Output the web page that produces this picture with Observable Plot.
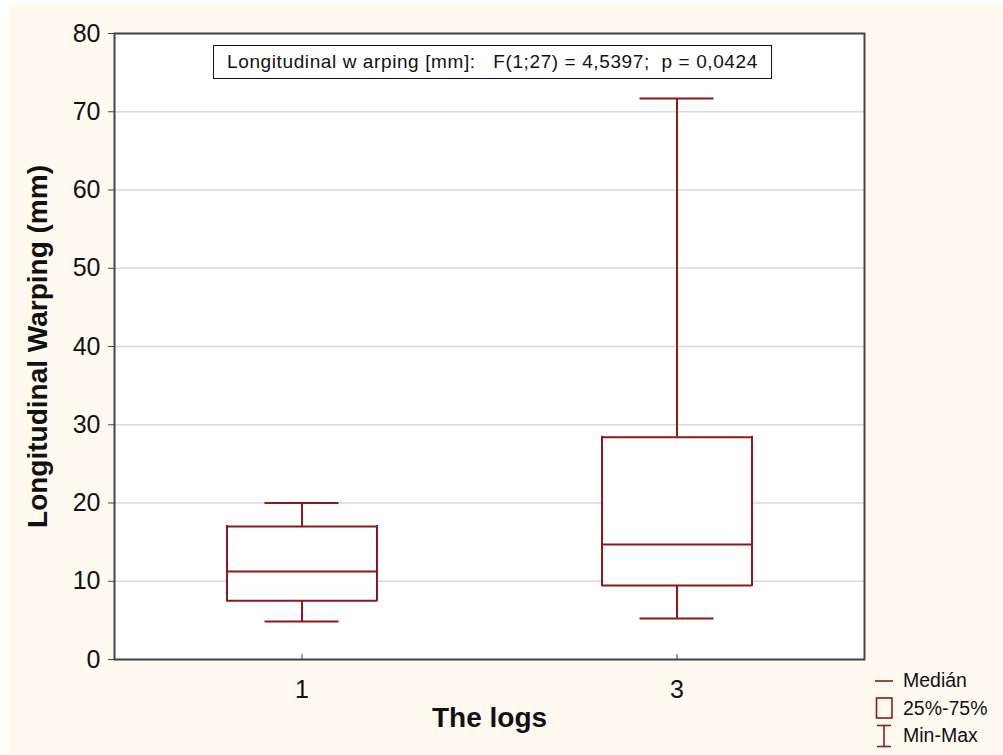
<!DOCTYPE html>
<html>
<head>
<meta charset="utf-8">
<script src="https://cdn.jsdelivr.net/npm/d3@7"></script>
<script src="https://cdn.jsdelivr.net/npm/@observablehq/plot@0.6"></script>
<style>
  html, body { margin: 0; padding: 0; background: #ffffff; }
  #wrap { position: relative; width: 1003px; height: 755px; overflow: hidden; }
  #bg { position: absolute; left: 9px; top: 4px; right: 0; bottom: 0; background: #fefaf0; }
  #chart { position: absolute; left: 0; top: 0; }
  #title { position: absolute; left: 213px; top: 45px; width: 557px; height: 32px; border: 1.5px solid #111;
    background: #fff; font-family: "Liberation Sans", Arial, sans-serif; font-size: 19px; letter-spacing: 0.6px; color: #111;
    display: flex; align-items: center; justify-content: center; white-space: pre; }
  #legend { position: absolute; left: 874px; top: 667px; font-family: "Liberation Sans", Arial, sans-serif;
    font-size: 19.5px; color: #111; }
  #legend .row { display: flex; align-items: center; height: 27.5px; }
  #legend svg { margin-right: 9px; }
</style>
</head>
<body>
<div id="wrap">
  <div id="bg"></div>
  <div id="chart"></div>
  <div id="title"></div>
  <div id="legend"></div>
</div>
<script>
const categories = ["1", "3"];
const minV    = [4.85, 5.25];
const q1V     = [7.5, 9.45];
const medianV = [11.25, 14.7];
const q3V     = [17.0, 28.4];
const maxV    = [20.0, 71.7];
const yTicks  = [0, 10, 20, 30, 40, 50, 60, 70, 80];
const titleText = "Longitudinal w arping [mm]:   F(1;27) = 4,5397;  p = 0,0424";
const legendLabels = ["Medián", "25%-75%", "Min-Max"];
const xLabel = "The logs";
const yLabel = "Longitudinal Warping (mm)";

const data = categories.map((c, i) => ({
  cat: c, min: minV[i], q1: q1V[i], median: medianV[i], q3: q3V[i], max: maxV[i]
}));

const boxColor = "#8b1a1a";
const W = 1003, H = 755;
const mL = 114, mR = 139, mT = 33, mB = 96;
const band = (W - mL - mR) / categories.length;
const boxW = 150;
const boxInset = (band - boxW) / 2;
const capInset = (band - 74) / 2;
const lw = 2;

const chart = Plot.plot({
  width: W,
  height: H,
  marginLeft: mL,
  marginRight: mR,
  marginTop: mT,
  marginBottom: mB,
  style: { background: "transparent", fontFamily: "'Liberation Sans', Arial, sans-serif", color: "#111" },
  x: { type: "band", domain: categories, padding: 0 },
  y: { domain: [0, 80] },
  marks: [
    Plot.frame({ fill: "#ffffff", stroke: "none" }),
    Plot.gridY(yTicks, { stroke: "#d8d8d8", strokeOpacity: 1, strokeWidth: 1.5 }),
    // whiskers
    Plot.ruleX(data, { x: "cat", y1: "q3", y2: "max", stroke: boxColor, strokeWidth: lw }),
    Plot.ruleX(data, { x: "cat", y1: "min", y2: "q1", stroke: boxColor, strokeWidth: lw }),
    Plot.tickY(data, { x: "cat", y: "max", stroke: boxColor, strokeWidth: lw, inset: capInset }),
    Plot.tickY(data, { x: "cat", y: "min", stroke: boxColor, strokeWidth: lw, inset: capInset }),
    // box fill
    Plot.ruleX(data, { x: "cat", y1: "q1", y2: "q3", stroke: "white", strokeWidth: boxW, strokeLinecap: "butt" }),
    // box outline
    Plot.ruleX(data, { x: "cat", y1: "q1", y2: "q3", dx: -boxW / 2, stroke: boxColor, strokeWidth: lw, strokeLinecap: "square" }),
    Plot.ruleX(data, { x: "cat", y1: "q1", y2: "q3", dx: boxW / 2, stroke: boxColor, strokeWidth: lw, strokeLinecap: "square" }),
    Plot.tickY(data, { x: "cat", y: "q1", stroke: boxColor, strokeWidth: lw, inset: boxInset }),
    Plot.tickY(data, { x: "cat", y: "q3", stroke: boxColor, strokeWidth: lw, inset: boxInset }),
    Plot.tickY(data, { x: "cat", y: "median", stroke: boxColor, strokeWidth: lw, inset: boxInset }),
    Plot.axisY(yTicks, { tickSize: 6, tickPadding: 8, fontSize: 25, stroke: "#444", label: null }),
    Plot.axisX(categories, { tickSize: -5, tickPadding: 26, fontSize: 25, stroke: "#444", label: null }),
    Plot.frame({ stroke: "#444", strokeWidth: 2 }),
    Plot.text([xLabel], { frameAnchor: "bottom", dy: 67, fontSize: 28, fontWeight: "bold", fill: "#111" }),
    Plot.text([yLabel], { frameAnchor: "left", dx: -76, rotate: -90, textAnchor: "middle", fontSize: 28, fontWeight: "bold", fill: "#111" })
  ]
});
document.getElementById("chart").appendChild(chart);
document.getElementById("title").textContent = titleText;

const c = boxColor;
const icons = [
  `<svg width="20" height="22"><line x1="1" y1="11" x2="19" y2="11" stroke="${c}" stroke-width="1.6"/></svg>`,
  `<svg width="20" height="22"><rect x="2.5" y="1" width="15.5" height="20" fill="none" stroke="${c}" stroke-width="1.6"/></svg>`,
  `<svg width="20" height="24"><line x1="3" y1="1.5" x2="17" y2="1.5" stroke="${c}" stroke-width="1.6"/><line x1="10" y1="1.5" x2="10" y2="22.5" stroke="${c}" stroke-width="1.6"/><line x1="3" y1="22.5" x2="17" y2="22.5" stroke="${c}" stroke-width="1.6"/></svg>`
];
const leg = document.getElementById("legend");
legendLabels.forEach((l, i) => {
  const row = document.createElement("div");
  row.className = "row";
  row.innerHTML = icons[i] + `<span>${l}</span>`;
  leg.appendChild(row);
});
</script>
</body>
</html>
